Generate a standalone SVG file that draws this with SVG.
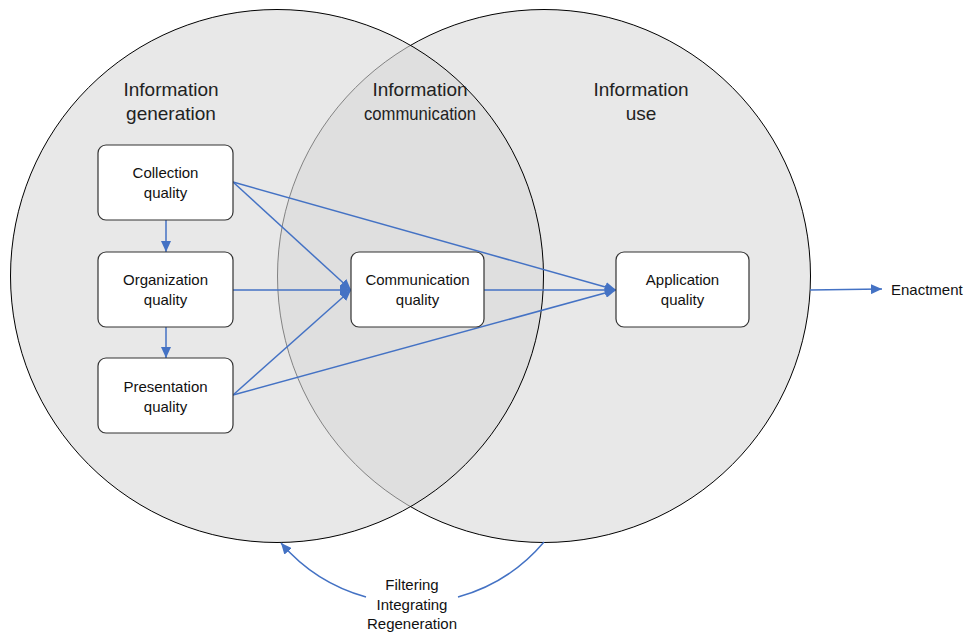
<svg xmlns="http://www.w3.org/2000/svg" width="968" height="633" viewBox="0 0 968 633">
  <style>
    .zone { fill: #d9d9d9; fill-opacity: 0.6; stroke: #000; stroke-width: 1; }
    .box { fill: #fff; stroke: #333; stroke-width: 1.2; }
    .head { font-family: "Liberation Sans", Arial, sans-serif; font-size: 19px; fill: #222; text-anchor: middle; }
    .lbl { font-family: "Liberation Sans", Arial, sans-serif; font-size: 15px; fill: #111; text-anchor: middle; }
    .link { fill: none; stroke: #4472c4; stroke-width: 1.5; marker-end: url(#arrow); }
  </style>
  <defs>
    <marker id="arrow" markerUnits="userSpaceOnUse" markerWidth="12" markerHeight="10" refX="11" refY="5" orient="auto">
      <path d="M0,0 L11,5 L0,10 Z" fill="#4472c4"/>
    </marker>
  </defs>

  <rect width="968" height="633" fill="#fff"/>

  <!-- Overlapping domains: use on the right, generation on the left (drawn on top) -->
  <g id="domain-use">
    <circle class="zone" cx="544" cy="276" r="266.5"/>
    <text class="head" x="641" y="96">Information</text>
    <text class="head" x="641" y="120">use</text>
  </g>
  <g id="domain-generation">
    <circle class="zone" cx="277" cy="276" r="266.5"/>
    <text class="head" x="171" y="96">Information</text>
    <text class="head" x="171" y="120">generation</text>
  </g>
  <g id="domain-communication">
    <text class="head" x="420" y="96">Information</text>
    <text class="head" x="420" y="120" textLength="112" lengthAdjust="spacingAndGlyphs">communication</text>
  </g>

  <!-- Connectors -->
  <g id="connectors">
    <line class="link" x1="166" y1="220" x2="166" y2="252"/>
    <line class="link" x1="166" y1="327" x2="166" y2="358"/>
    <line class="link" x1="233" y1="182" x2="351" y2="290"/>
    <line class="link" x1="233" y1="290" x2="351" y2="290"/>
    <line class="link" x1="233" y1="395" x2="351" y2="290"/>
    <line class="link" x1="233" y1="182" x2="616" y2="290"/>
    <line class="link" x1="484" y1="290" x2="616" y2="290"/>
    <line class="link" x1="233" y1="395" x2="616" y2="290"/>
    <line class="link" x1="810" y1="290" x2="882" y2="289"/>
    <path fill="none" stroke="#4472c4" stroke-width="1.5" d="M544,542 A173,173 0 0 1 458,597"/>
    <path class="link" d="M366,597 A173,173 0 0 1 281,543"/>
  </g>

  <!-- Nodes -->
  <g id="collection">
    <rect class="box" x="98" y="145" width="135" height="75" rx="8"/>
    <text class="lbl" x="165.5" y="178">Collection</text>
    <text class="lbl" x="165.5" y="198">quality</text>
  </g>
  <g id="organization">
    <rect class="box" x="98" y="252" width="135" height="75" rx="8"/>
    <text class="lbl" x="165.5" y="285">Organization</text>
    <text class="lbl" x="165.5" y="305">quality</text>
  </g>
  <g id="presentation">
    <rect class="box" x="98" y="358" width="135" height="75" rx="8"/>
    <text class="lbl" x="165.5" y="392">Presentation</text>
    <text class="lbl" x="165.5" y="412">quality</text>
  </g>
  <g id="communication">
    <rect class="box" x="351" y="252" width="133" height="75" rx="8"/>
    <text class="lbl" x="417.5" y="285">Communication</text>
    <text class="lbl" x="417.5" y="305">quality</text>
  </g>
  <g id="application">
    <rect class="box" x="616" y="252" width="133" height="75" rx="8"/>
    <text class="lbl" x="682.5" y="285">Application</text>
    <text class="lbl" x="682.5" y="305">quality</text>
  </g>
  <g id="enactment">
    <text class="lbl" x="891" y="295" style="text-anchor:start">Enactment</text>
  </g>
  <g id="feedback-label">
    <text class="lbl" x="412" y="590">Filtering</text>
    <text class="lbl" x="412" y="610">Integrating</text>
    <text class="lbl" x="412" y="629">Regeneration</text>
  </g>
</svg>
